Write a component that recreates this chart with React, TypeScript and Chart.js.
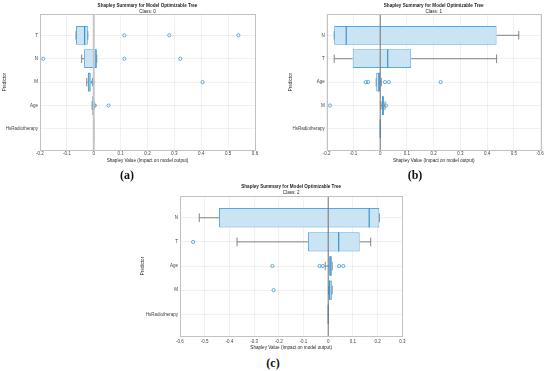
import { useEffect, useRef } from "react";
import { Chart, registerables } from "chart.js";
Chart.register(...registerables);

// ---------- Panel (a): Class 0 ----------
const predictorsA = ["T", "N", "M", "Age", "HsRadiotherapy"];
const whiskerLowA = [-0.066, -0.045, -0.026, -0.006, 0];
const q1A = [-0.066, -0.036, -0.0225, -0.005, 0];
const medianA = [-0.034, 0.008, -0.018, -0.002, 0];
const q3A = [-0.022, 0.011, -0.011, 0.0, 0];
const whiskerHighA = [-0.022, 0.011, -0.005, 0.002, 0];
const outliersA = [[0.114, 0.281, 0.538], [-0.188, 0.114, 0.322], [-0.003, 0.405], [0.002, 0.004, 0.055], []];
const xTicksA = [-0.2, -0.1, 0, 0.1, 0.2, 0.3, 0.4, 0.5, 0.6];

// ---------- Panel (b): Class 1 ----------
const predictorsB = ["N", "T", "Age", "M", "HsRadiotherapy"];
const whiskerLowB = [-0.172, -0.172, -0.015, 0.003, 0];
const q1B = [-0.172, -0.103, -0.015, 0.007, 0];
const medianB = [-0.127, 0.028, -0.005, 0.01, 0];
const q3B = [0.435, 0.116, -0.001, 0.014, 0];
const whiskerHighB = [0.518, 0.435, 0.004, 0.018, 0];
const outliersB = [[], [], [-0.054, -0.045, 0.018, 0.032, 0.226], [-0.188, 0.022], []];
const xTicksB = [-0.2, -0.1, 0, 0.1, 0.2, 0.3, 0.4, 0.5, 0.6];

// ---------- Panel (c): Class 2 ----------
const predictorsC = ["N", "T", "Age", "M", "HsRadiotherapy"];
const whiskerLowC = [-0.522, -0.369, -0.012, 0.002, 0];
const q1C = [-0.442, -0.082, 0.004, 0.002, 0];
const medianC = [0.166, 0.0425, 0.008, 0.006, 0];
const q3C = [0.207, 0.1275, 0.016, 0.016, 0];
const whiskerHighC = [0.207, 0.172, 0.016, 0.016, 0];
const outliersC = [[], [-0.547], [-0.226, -0.035, -0.022, 0.044, 0.061], [-0.221], []];
const xTicksC = [-0.6, -0.5, -0.4, -0.3, -0.2, -0.1, 0, 0.1, 0.2, 0.3];

const titleText = "Shapley Summary for Model Optimizable Tree";
const xTitle = "Shapley Value (Impact on model output)";
const yTitle = "Predictor";

const FONT = "'Liberation Sans', Arial, Helvetica, sans-serif";
const BOX_FILL = "#cae4f4";
const BOX_EDGE = "#55a9e1";
const MEDIAN = "#3a93d2";
const OUTLIER = "#3d9bd8";
const WHISKER = "#767676";

type Panel = {
  id: string;
  left: number; top: number; width: number; height: number;
  pad: { left: number; right: number; top: number; bottom: number };
  yWidth: number; xHeight: number;
  titlePad: { top: number; bottom: number };
  subPad: { top: number; bottom: number };
  tickPad: number;
  sub: string;
  labels: string[]; low: number[]; q1: number[]; med: number[]; q3: number[]; high: number[];
  outliers: number[][]; xTicks: number[];
  zeroColor: string; zeroWidth: number;
};

const panels: Panel[] = [
  {
    id: "a", left: 0, top: 0, width: 305, height: 167,
    pad: { left: 0, right: 10, top: 0, bottom: 3.8 }, yWidth: 40, xHeight: 13.2,
    titlePad: { top: 3.2, bottom: 0 }, subPad: { top: 0, bottom: 0 }, tickPad: 1.5,
    sub: "Class: 0",
    labels: predictorsA, low: whiskerLowA, q1: q1A, med: medianA, q3: q3A, high: whiskerHighA,
    outliers: outliersA, xTicks: xTicksA, zeroColor: "#c4c4c4", zeroWidth: 2,
  },
  {
    id: "b", left: 275, top: 0, width: 316, height: 167,
    pad: { left: 11, right: 9.6, top: 0, bottom: 3.8 }, yWidth: 40.7, xHeight: 13.2,
    titlePad: { top: 3.2, bottom: 0 }, subPad: { top: 0, bottom: 0 }, tickPad: 1.5,
    sub: "Class: 1",
    labels: predictorsB, low: whiskerLowB, q1: q1B, med: medianB, q3: q3B, high: whiskerHighB,
    outliers: outliersB, xTicks: xTicksB, zeroColor: "#707070", zeroWidth: 1,
  },
  {
    id: "c", left: 100, top: 180, width: 362, height: 173,
    pad: { left: 38, right: 17.7, top: 0, bottom: 2.6 }, yWidth: 42, xHeight: 14.4,
    titlePad: { top: 3.5, bottom: 0 }, subPad: { top: 0.7, bottom: 0.8 }, tickPad: 3,
    sub: "Class: 2",
    labels: predictorsC, low: whiskerLowC, q1: q1C, med: medianC, q3: q3C, high: whiskerHighC,
    outliers: outliersC, xTicks: xTicksC, zeroColor: "#707070", zeroWidth: 1,
  },
];

function boxPartsPlugin(p: Panel) {
  const capHalf = 0.18;
  const boxHalf = 0.4;
  return {
    id: "boxParts" + p.id,
    beforeDatasetsDraw(chart: any) {
      const { ctx, scales } = chart;
      const x = scales.x, y = scales.y;
      ctx.save();
      ctx.strokeStyle = WHISKER;
      ctx.lineWidth = 0.9;
      p.labels.forEach((_, i) => {
        if (p.low[i] === p.high[i]) return;
        const yc = y.getPixelForValue(i + 1);
        const ch = Math.abs(y.getPixelForValue(i + 1 + capHalf) - yc);
        const xl = x.getPixelForValue(p.low[i]);
        const x1 = x.getPixelForValue(p.q1[i]);
        const x3 = x.getPixelForValue(p.q3[i]);
        const xh = x.getPixelForValue(p.high[i]);
        ctx.beginPath();
        ctx.moveTo(xl, yc); ctx.lineTo(x1, yc);
        ctx.moveTo(x3, yc); ctx.lineTo(xh, yc);
        ctx.moveTo(xl, yc - ch); ctx.lineTo(xl, yc + ch);
        ctx.moveTo(xh, yc - ch); ctx.lineTo(xh, yc + ch);
        ctx.stroke();
      });
      ctx.restore();
    },
    afterDatasetsDraw(chart: any) {
      const { ctx, scales, chartArea } = chart;
      const x = scales.x, y = scales.y;
      ctx.save();
      // medians
      ctx.strokeStyle = MEDIAN;
      ctx.lineWidth = 1.2;
      p.labels.forEach((_, i) => {
        const yc = y.getPixelForValue(i + 1);
        const bh = Math.abs(y.getPixelForValue(i + 1 + boxHalf) - yc);
        const xm = x.getPixelForValue(p.med[i]);
        ctx.beginPath();
        ctx.moveTo(xm, yc - bh); ctx.lineTo(xm, yc + bh);
        ctx.stroke();
      });
      // zero reference line
      const x0 = x.getPixelForValue(0);
      ctx.strokeStyle = p.zeroColor;
      ctx.lineWidth = p.zeroWidth;
      ctx.beginPath();
      ctx.moveTo(x0, chartArea.top); ctx.lineTo(x0, chartArea.bottom);
      ctx.stroke();
      // axes box
      ctx.strokeStyle = "#c2c2c2";
      ctx.lineWidth = 1;
      ctx.strokeRect(
        Math.round(chartArea.left) + 0.5, Math.round(chartArea.top) + 0.5,
        Math.round(chartArea.right - chartArea.left), Math.round(chartArea.bottom - chartArea.top)
      );
      ctx.restore();
    },
  };
}

function ChartPanel({ p }: { p: Panel }) {
  const ref = useRef<HTMLCanvasElement | null>(null);
  useEffect(() => {
    if (!ref.current) return;
    const boxData = p.labels.map((_, i) => ({ y: i + 1, x: [p.q1[i], p.q3[i]] }));
    const outData: { x: number; y: number }[] = [];
    p.outliers.forEach((arr, i) => arr.forEach((v) => outData.push({ x: v, y: i + 1 })));
    const tickFont = { family: FONT, size: 4.5, lineHeight: 1.2 };
    const chart = new Chart(ref.current, {
      type: "bar",
      data: {
        datasets: [
          {
            type: "bar",
            data: boxData as any,
            backgroundColor: BOX_FILL,
            borderColor: BOX_EDGE,
            borderWidth: 1,
            borderSkipped: false,
            barPercentage: 0.8,
            categoryPercentage: 1,
            order: 2,
            yAxisID: "y",
          } as any,
          {
            type: "scatter",
            data: outData as any,
            pointRadius: 1.6,
            pointBorderWidth: 0.8,
            borderColor: OUTLIER,
            backgroundColor: "rgba(255,255,255,0)",
            order: 1,
            yAxisID: "y",
          } as any,
        ],
      },
      options: {
        indexAxis: "y",
        responsive: false,
        animation: false,
        devicePixelRatio: 1,
        layout: { padding: p.pad },
        plugins: {
          legend: { display: false },
          tooltip: { enabled: false },
          title: {
            display: true,
            text: titleText,
            color: "#262626",
            font: { family: FONT, size: 4.6, weight: "bold", lineHeight: 1.2 },
            padding: p.titlePad,
          },
          subtitle: {
            display: true,
            text: p.sub,
            color: "#262626",
            font: { family: FONT, size: 4.6, lineHeight: 1.2 },
            padding: p.subPad,
          },
        },
        scales: {
          x: {
            type: "linear",
            position: "bottom",
            min: p.xTicks[0],
            max: p.xTicks[p.xTicks.length - 1],
            afterBuildTicks: (s: any) => { s.ticks = p.xTicks.map((v) => ({ value: v })); },
            afterFit: (s: any) => { s.height = p.xHeight; },
            ticks: {
              autoSkip: false,
              maxRotation: 0,
              padding: p.tickPad,
              color: "#404040",
              font: tickFont,
              callback: (v: any) => String(Math.round(Number(v) * 10) / 10),
            },
            grid: { color: "#ececec", lineWidth: 0.8, drawTicks: false },
            border: { display: false },
            title: {
              display: true,
              text: xTitle,
              color: "#262626",
              font: { family: FONT, size: 4.6, lineHeight: 1.2 },
              padding: { top: 0, bottom: 0 },
            },
          },
          y: {
            type: "linear",
            position: "left",
            reverse: true,
            offset: false,
            min: 0.1,
            max: p.labels.length + 0.9,
            afterBuildTicks: (s: any) => { s.ticks = p.labels.map((_, i) => ({ value: i + 1 })); },
            afterFit: (s: any) => { s.width = p.yWidth; },
            ticks: {
              autoSkip: false,
              padding: 2,
              color: "#404040",
              font: tickFont,
              callback: (v: any) => p.labels[Math.round(Number(v)) - 1] ?? "",
            },
            grid: { color: "#ececec", lineWidth: 0.8, drawTicks: false, offset: false },
            border: { display: false },
            title: {
              display: true,
              text: yTitle,
              color: "#262626",
              font: { family: FONT, size: 4.6, lineHeight: 1.2 },
              padding: { top: 2.3, bottom: 0 },
            },
          },
          // blank balancing axis so the title centres over the plot area
          yBalance: {
            type: "linear",
            position: "right",
            display: true,
            afterFit: (s: any) => { s.width = p.yWidth; },
            ticks: { display: false },
            grid: { display: false, drawTicks: false },
            border: { display: false },
          },
        },
      } as any,
      plugins: [boxPartsPlugin(p)],
    });
    return () => chart.destroy();
  }, [p]);
  return (
    <canvas
      ref={ref}
      width={p.width}
      height={p.height}
      style={{ position: "absolute", left: p.left, top: p.top, width: p.width, height: p.height }}
    />
  );
}

const letterStyle = (x: number, y: number): React.CSSProperties => ({
  position: "absolute",
  left: x,
  top: y,
  transform: "translate(-50%, -50%)",
  fontFamily: "'Liberation Serif', 'DejaVu Serif', serif",
  fontWeight: "bold",
  fontSize: 12,
  color: "#111",
  lineHeight: 1,
  whiteSpace: "nowrap",
});

export default function App() {
  return (
    <div style={{ position: "fixed", left: 0, top: 0, width: 550, height: 371, background: "#fff", overflow: "hidden" }}>
      {panels.map((p) => (
        <ChartPanel key={p.id} p={p} />
      ))}
      <div style={letterStyle(127, 175)}>(a)</div>
      <div style={letterStyle(415, 175)}>(b)</div>
      <div style={letterStyle(273, 363)}>(c)</div>
    </div>
  );
}
